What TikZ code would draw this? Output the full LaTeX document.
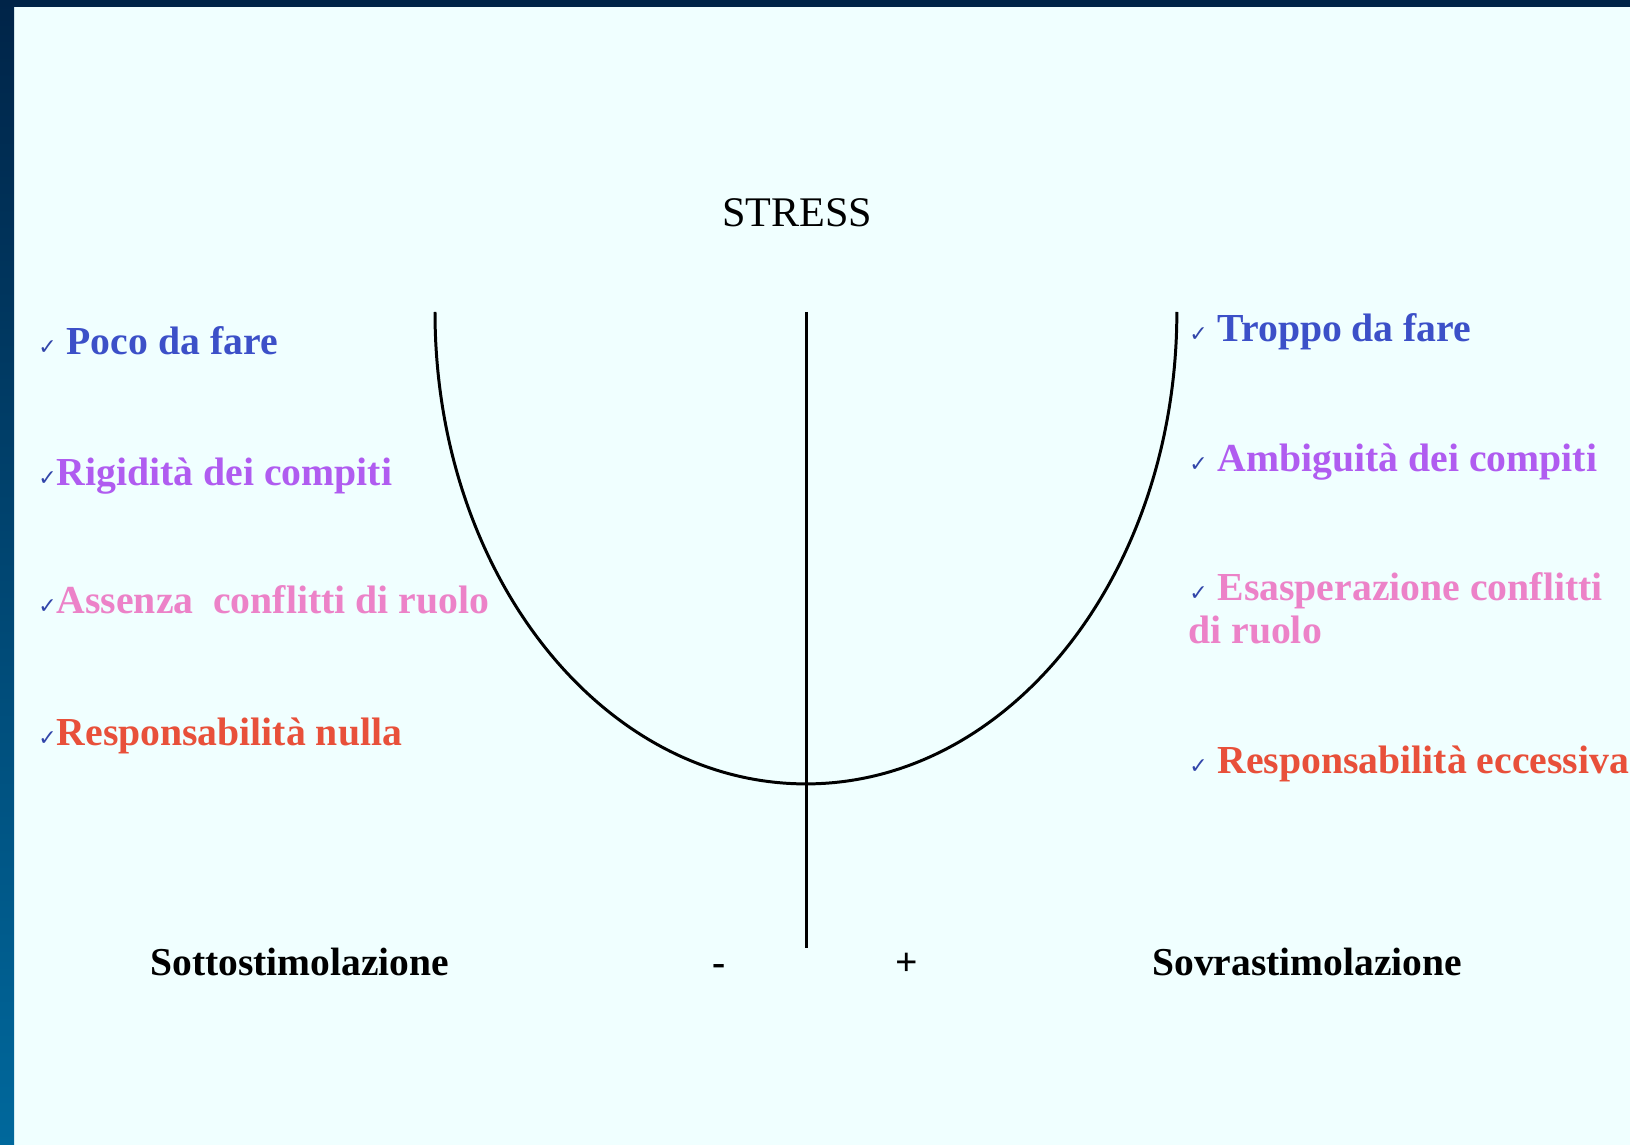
\documentclass[tikz,border=0pt]{standalone}
\usepackage{fontspec}
\setmainfont{Liberation Serif}
\newfontfamily\dejavu{DejaVu Sans}
\usetikzlibrary{positioning}
\definecolor{fondo}{RGB}{240,255,255}
\definecolor{notte}{RGB}{0,36,72}
\definecolor{mare}{RGB}{0,104,156}
\definecolor{spunta}{RGB}{50,70,170}
\definecolor{blu}{RGB}{60,80,200}
\definecolor{viola}{RGB}{176,92,240}
\definecolor{rosa}{RGB}{236,130,200}
\definecolor{rosso}{RGB}{232,80,58}
\newcommand{\chk}{{\dejavu\fontsize{12.5}{12.5}\selectfont\color{spunta}✓}}

\begin{document}
\begin{tikzpicture}[x=0.02cm,y=-0.02cm,
  voce/.style={anchor=base west,inner sep=0pt,font=\fontsize{22.6}{26}\selectfont\bfseries},
  polo/.style={anchor=base west,inner sep=0pt,font=\fontsize{22.5}{26}\selectfont\bfseries},
  linea/.style={line width=1.7pt}]
  \useasboundingbox (0,0) rectangle (1630,1145);
  \fill[fondo] (0,0) rectangle (1630,1145);
  \shade[top color=notte,middle color=notte!70!mare,bottom color=mare] (0,0) rectangle (14,1145);
  \fill[notte] (0,0) rectangle (1630,7);

  \node[anchor=base,inner sep=0pt,font=\fontsize{24}{28}\selectfont] (stress) at (797,227) {STRESS};

  % asse e curva
  \coordinate (asseA) at (806,312);
  \coordinate (asseB) at (806,948);
  \coordinate (usx) at (435,312);
  \draw[linea] (asseA) -- (asseB);
  \draw[linea] (usx) arc[start angle=180,end angle=360,x radius=7.42cm,y radius=9.44cm];

  % sottostimolazione
  \node[voce,text=blu] (poco) at (38,355) {\chk\ Poco da fare};
  \node[voce,text=viola] (rigid) at (38,485) {\chk Rigidità dei compiti};
  \node[voce,text=rosa] (assenza) at (38,613) {\chk Assenza\ \ conflitti di ruolo};
  \node[voce,text=rosso] (respnulla) at (38,745) {\chk Responsabilità nulla};

  % sovrastimolazione
  \node[voce,text=blu] (troppo) at (1189,342) {\chk\ Troppo da fare};
  \node[voce,text=viola] (ambig) at (1189,472) {\chk\ Ambiguità dei compiti};
  \node[voce,text=rosa] (esasp) at (1189,600) {\chk\ Esasperazione conflitti};
  \node[voce,text=rosa] (esasp2) at (1188,643) {di ruolo};
  \node[voce,text=rosso] (respecc) at (1189,773) {\chk\ Responsabilità eccessiva};

  \node[polo] (sotto) at (150,975) {Sottostimolazione};
  \node[polo] (meno) at (712,975) {-};
  \node[polo] (piu) at (895,975) {+};
  \node[polo] (sovra) at (1152,975) {Sovrastimolazione};
\end{tikzpicture}
\end{document}
